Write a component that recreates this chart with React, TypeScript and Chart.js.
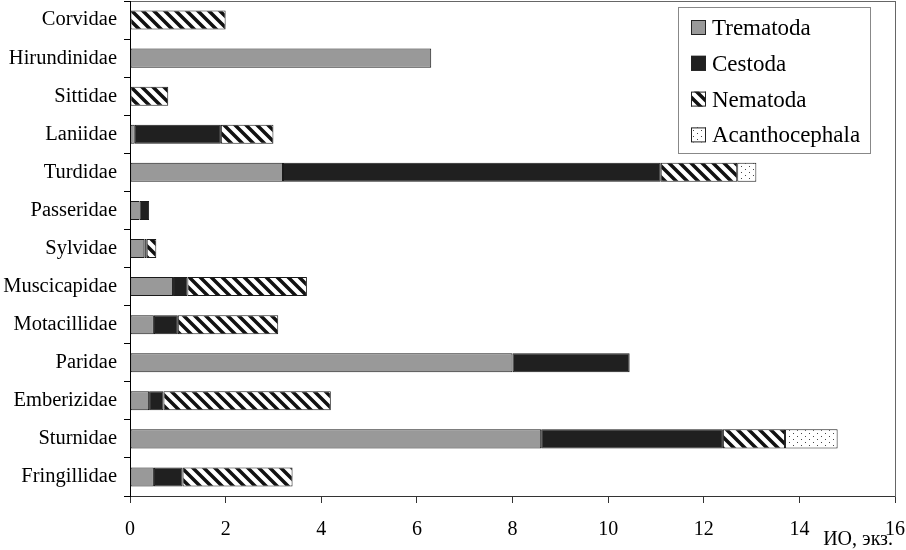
import React, { useEffect, useRef } from 'react';
import { Chart, registerables } from 'chart.js';
Chart.register(...registerables);

const categories = ['Corvidae', 'Hirundinidae', 'Sittidae', 'Laniidae', 'Turdidae', 'Passeridae', 'Sylvidae', 'Muscicapidae', 'Motacillidae', 'Paridae', 'Emberizidae', 'Sturnidae', 'Fringillidae'];
const trematoda = [null, 6.3, null, 0.1, 3.2, 0.2, 0.3, 0.9, 0.5, 8.0, 0.4, 8.6, 0.5];
const cestoda = [null, null, null, 1.8, 7.9, 0.2, 0.05, 0.3, 0.5, 2.45, 0.3, 3.8, 0.6];
const nematoda = [2.0, null, 0.8, 1.1, 1.6, null, 0.2, 2.5, 2.1, null, 3.5, 1.3, 2.3];
const acanthocephala = [null, null, null, null, 0.4, null, null, null, null, null, null, 1.1, null];
const seriesNames = ['Trematoda', 'Cestoda', 'Nematoda', 'Acanthocephala'];
const xMin = 0;
const xMax = 16;
const xStep = 2;
const axisTitle = 'ИО, экз.';

const FONT = "'Liberation Serif', 'Times New Roman', serif";

function makeHatch(ctx: CanvasRenderingContext2D) {
  const P = 11;
  const c = document.createElement('canvas');
  c.width = P; c.height = P;
  const g = c.getContext('2d')!;
  g.fillStyle = '#fff';
  g.fillRect(0, 0, P, P);
  g.strokeStyle = '#111';
  g.lineWidth = 3.5;
  g.beginPath();
  for (let k = -1; k <= 1; k++) {
    g.moveTo(k * P - 2, -2);
    g.lineTo(k * P + P + 2, P + 2);
  }
  g.stroke();
  return ctx.createPattern(c, 'repeat')!;
}

function makeDots(ctx: CanvasRenderingContext2D) {
  const c = document.createElement('canvas');
  c.width = 8; c.height = 6;
  const g = c.getContext('2d')!;
  g.fillStyle = '#fff';
  g.fillRect(0, 0, 8, 6);
  g.fillStyle = '#444';
  g.fillRect(1, 1, 1, 1);
  g.fillRect(5, 4, 1, 1);
  return ctx.createPattern(c, 'repeat')!;
}

export default function App() {
  const ref = useRef<HTMLCanvasElement>(null);
  useEffect(() => {
    const canvas = ref.current!;
    const ctx = canvas.getContext('2d')!;
    const hatch = makeHatch(ctx);
    const dots = makeDots(ctx);
    const fills: any[] = ['#999999', '#202020', hatch, dots];
    const series = [trematoda, cestoda, nematoda, acanthocephala];

    const overlay = {
      id: 'overlay',
      afterDraw(chart: any) {
        const c = chart.ctx as CanvasRenderingContext2D;
        c.save();
        const bx = 678.5, by = 7.5, bw = 192, bh = 146;
        c.fillStyle = '#fff';
        c.fillRect(bx, by, bw, bh);
        c.strokeStyle = '#888';
        c.lineWidth = 1;
        c.strokeRect(bx, by, bw, bh);
        c.font = `23px ${FONT}`;
        c.textBaseline = 'alphabetic';
        c.textAlign = 'left';
        seriesNames.forEach((name, i) => {
          const cy = 27.5 + i * 35.8;
          c.fillStyle = fills[i];
          c.fillRect(691, cy - 7.5, 15, 15);
          c.strokeStyle = '#222';
          c.strokeRect(691.5, cy - 7, 14, 14);
          c.fillStyle = '#000';
          c.fillText(name, 712, cy + 7.5);
        });
        c.font = `20px ${FONT}`;
        c.fillStyle = '#000';
        c.textAlign = 'right';
        c.fillText(axisTitle, 893, 545);
        c.restore();
      },
    };

    const chart = new Chart(canvas, {
      type: 'bar',
      data: {
        labels: categories,
        datasets: seriesNames.map((name, i) => ({
          label: name,
          data: series[i] as any,
          backgroundColor: fills[i],
          borderColor: '#1a1a1a',
          borderWidth: 1,
          borderSkipped: false,
          categoryPercentage: 1,
          barPercentage: 0.5,
        })),
      },
      options: {
        indexAxis: 'y',
        animation: false,
        responsive: false,
        maintainAspectRatio: false,
        layout: { padding: { top: 0, right: 10, bottom: 0, left: 0 } },
        plugins: { legend: { display: false }, tooltip: { enabled: false } },
        scales: {
          x: {
            stacked: true,
            min: xMin,
            max: xMax,
            ticks: { stepSize: xStep, color: '#000', font: { family: FONT, size: 20 }, padding: 15, maxRotation: 0 },
            grid: { drawOnChartArea: false, drawTicks: true, tickLength: 7, color: '#333' },
            border: { display: true, color: '#333' },
            afterFit: (s: any) => { s.height = 54; s.paddingLeft = 0; s.paddingRight = 0; },
          },
          xTop: {
            type: 'linear',
            position: 'top',
            min: xMin,
            max: xMax,
            display: true,
            ticks: { display: false },
            grid: { display: true, drawOnChartArea: false, drawTicks: false, tickLength: 0 },
            border: { display: true, color: '#666', width: 1 },
            afterFit: (s: any) => { s.height = 1; s.paddingLeft = 0; s.paddingRight = 0; },
          },
          y: {
            stacked: true,
            ticks: { color: '#000', font: { family: FONT, size: 20.5 }, padding: 7 },
            grid: { drawOnChartArea: false, drawTicks: true, tickLength: 6, color: '#000', offset: true },
            border: { display: true, color: '#000' },
            afterFit: (s: any) => { s.width = 130; s.paddingTop = 0; s.paddingBottom = 0; },
          },
          yRight: {
            type: 'category',
            position: 'right',
            display: true,
            ticks: { display: false },
            grid: { display: true, drawOnChartArea: false, drawTicks: false, tickLength: 0 },
            border: { display: true, color: '#666', width: 1 },
            afterFit: (s: any) => { s.width = 1; s.paddingTop = 0; s.paddingBottom = 0; },
          },
        },
      },
      plugins: [overlay],
    });
    return () => chart.destroy();
  }, []);
  return (
    <div style={{ position: 'fixed', left: 0, top: 0, width: 906, height: 550, background: '#fff' }}>
      <canvas ref={ref} width={906} height={550} style={{ width: 906, height: 550 }} />
    </div>
  );
}
